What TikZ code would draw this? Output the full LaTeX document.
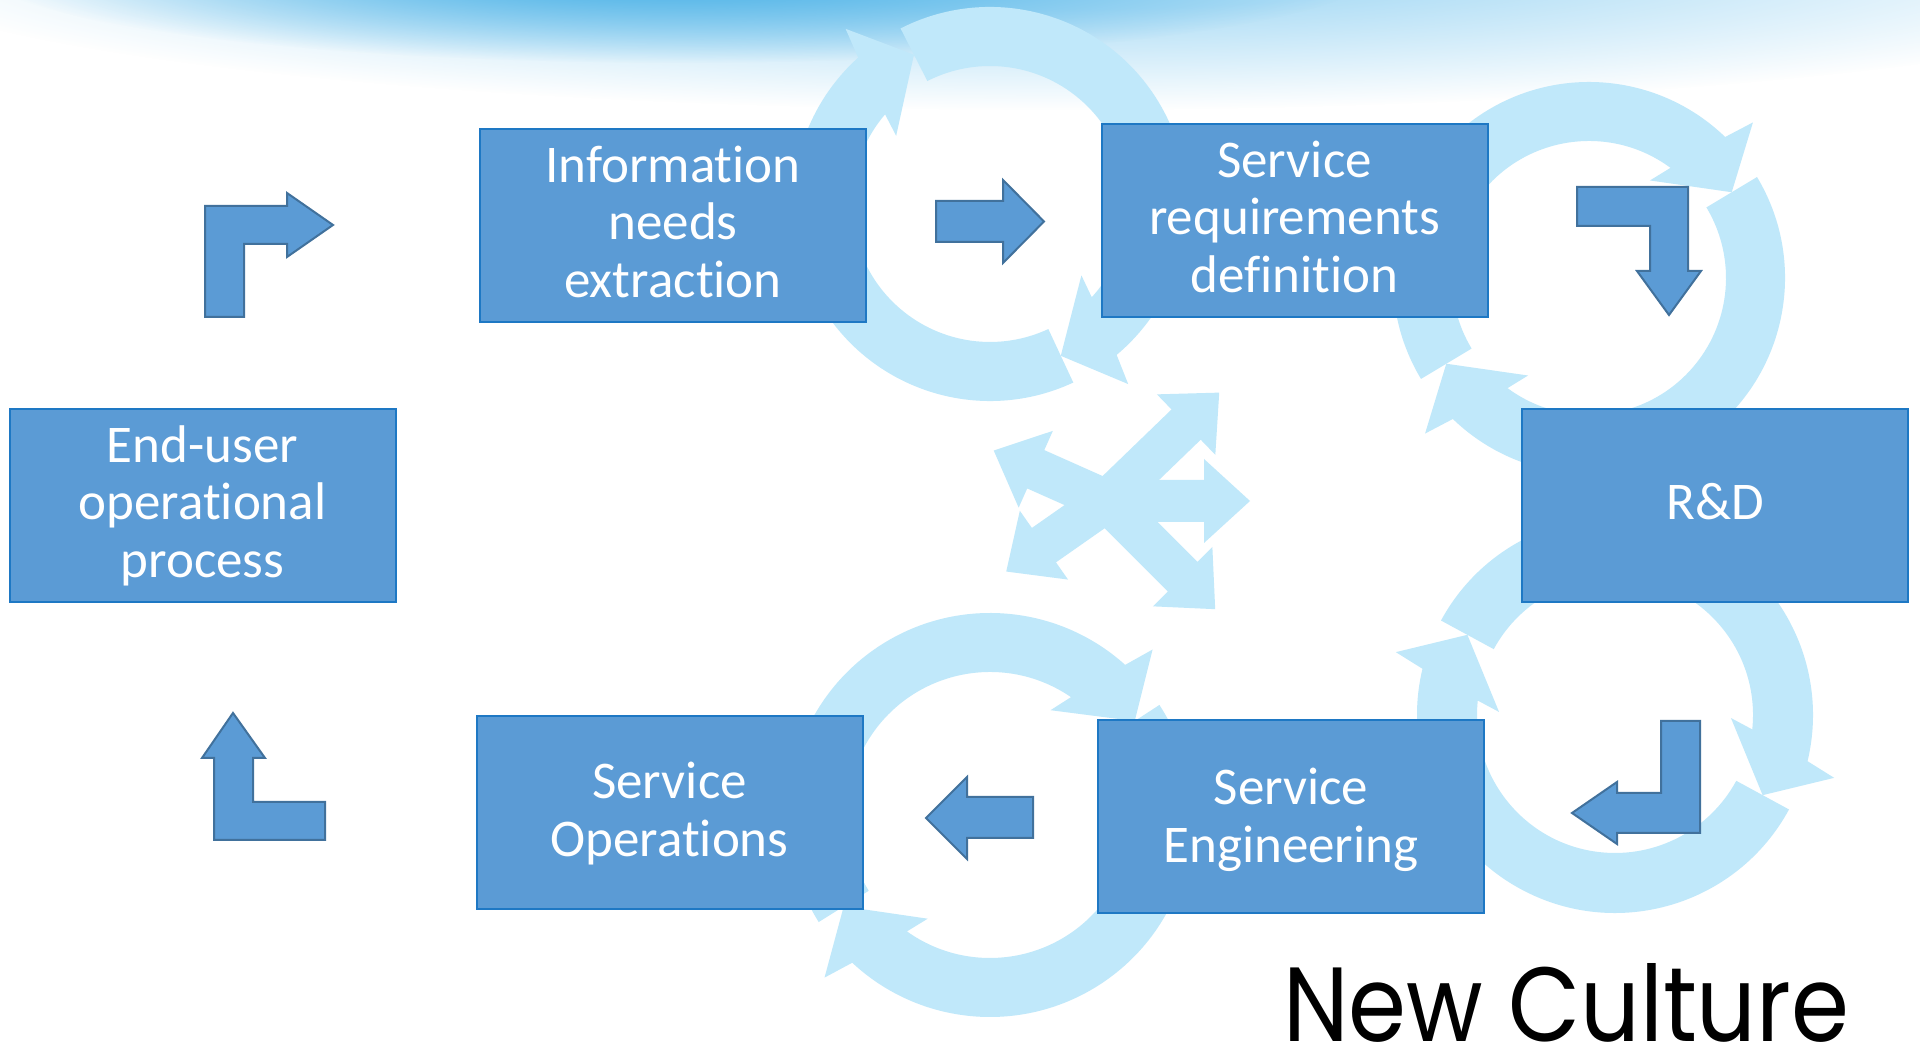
\documentclass[tikz,border=0pt]{standalone}
\usepackage{fontspec}
\usepackage{graphicx}
\usetikzlibrary{fadings}
\newfontfamily\boxfont[Ligatures=NoCommon]{Carlito}
\newfontfamily\ncfont{Poppins}
\definecolor{boxfill}{HTML}{5B9BD5}
\definecolor{boxedge}{RGB}{30,120,196}
\definecolor{arrowedge}{HTML}{41719C}
\definecolor{ringc}{RGB}{192,232,250}
\definecolor{skyL}{RGB}{176,222,246}
\definecolor{skyD}{RGB}{96,187,234}
\pgfdeclareradialshading{skyfadeshade}{\pgfpointorigin}{color(0bp)=(white); color(8bp)=(white); color(25bp)=(black); color(50bp)=(black)}
\pgfdeclarefading{skyfade}{\pgfuseshading{skyfadeshade}}
% circular arrow: centre x, centre y, inner r, outer r, tail angle, head tip angle (clockwise)
\newcommand\circarrow[6]{%
  \begin{scope}[shift={(#1,#2)}]
    \fill[ringc] (#5:#4) arc[start angle=#5, end angle={#6+15}, radius=#4]
      -- ({#6+12.5}:{#4+30}) -- (#6:{(#3+#4)/2}) -- ({#6+27}:{#3-22})
      -- ({#6+22.5}:#3) arc[start angle={#6+22.5}, end angle=#5, radius=#3] -- cycle;
  \end{scope}}
% straight arrow of the centre star: angle, length
\newcommand\stararrow[2]{%
  \begin{scope}[shift={(1107,547)}, rotate=#1]
    \fill[ringc] (-14,-21) -- ({#2-46},-21) -- ({#2-46},-42) -- (#2,0)
      -- ({#2-46},42) -- ({#2-46},21) -- (-14,21) -- cycle;
  \end{scope}}
\tikzset{
  box/.style={draw=boxedge, line width=2pt, fill=boxfill, minimum width=386pt,
    minimum height=193pt, inner sep=0pt},
  boxtext/.style={inner sep=0pt, text=white, align=center,
    font=\boxfont\fontsize{53}{57.5}\selectfont},
  blockarrow/.style={fill=boxfill, draw=arrowedge, line width=2pt, line join=miter}
}
\begin{document}
\begin{tikzpicture}[x=1pt, y=1pt]
\useasboundingbox (0,0) rectangle (1920,1048);
\clip (0,0) rectangle (1920,1048);
\fill[white] (0,0) rectangle (1920,1048);
% sky
\fill[skyL, path fading=skyfade] (1060,1088) ellipse [x radius=1200, y radius=150];
\fill[skyD, path fading=skyfade] (680,1080) ellipse [x radius=700, y radius=95];
% rings of circular arrows
\circarrow{990}{844}{138}{197}{295}{117}
\circarrow{990}{844}{138}{197}{117}{-65}
\circarrow{1589}{770}{137}{196}{211}{31}
\circarrow{1589}{770}{137}{196}{391}{211}
\circarrow{990}{233}{143}{202}{212}{33}
\circarrow{990}{233}{143}{202}{393}{212}
\circarrow{1615}{333}{138}{198}{331.5}{151.5}
\circarrow{1615}{333}{138}{198}{151.5}{-28.5}
% centre star of arrows
\stararrow{0}{143}
\stararrow{44}{156}
\stararrow{-45}{153}
\stararrow{156}{124}
\stararrow{215}{123}
% block arrows
\draw[blockarrow] (205,731) -- (205,842) -- (287,842) -- (287,855) -- (333,823) -- (287,791) -- (287,804) -- (244,804) -- (244,731) -- cycle;
\draw[blockarrow] (936,847) -- (1003,847) -- (1003,868) -- (1044,826.5) -- (1003,785) -- (1003,806) -- (936,806) -- cycle;
\draw[blockarrow] (1577,861) -- (1688,861) -- (1688,777) -- (1701,777) -- (1669,733) -- (1637,777) -- (1650,777) -- (1650,822) -- (1577,822) -- cycle;
\draw[blockarrow] (1661,327) -- (1700,327) -- (1700,215) -- (1617,215) -- (1617,204) -- (1572,235) -- (1617,266) -- (1617,255) -- (1661,255) -- cycle;
\draw[blockarrow] (926,230) -- (967,271) -- (967,251) -- (1033,251) -- (1033,210) -- (967,210) -- (967,189) -- cycle;
\draw[blockarrow] (233,335) -- (265,290) -- (253,290) -- (253,246) -- (325,246) -- (325,208) -- (214,208) -- (214,290) -- (202,290) -- cycle;
% boxes
\node[box] (info) at (673,822.5) {};
\node[box] (req) at (1294.5,827.5) {};
\node[box] (rd) at (1715,542.5) {};
\node[box] (eng) at (1291,231) {};
\node[box] (ops) at (669.5,235.5) {};
\node[box] (user) at (202.5,542.5) {};
\node[boxtext] (infot) at ([yshift=4pt]info.center) {Information\\needs\\extraction};
\node[boxtext] (reqt) at ([yshift=4pt]req.center) {Service\\requirements\\definition};
\node[boxtext] (rdt) at ([yshift=4pt]rd.center) {R\&D};
\node[boxtext] (engt) at ([yshift=-3pt]eng.center) {Service\\Engineering};
\node[boxtext] (opst) at ([yshift=-1pt]ops.center) {Service\\Operations};
\node[boxtext] (usert) at (user.center) {End-user\\operational\\process};
% title
\node[anchor=base west, inner sep=0pt] (nc) at (1283,6) {\resizebox{566pt}{78pt}{\ncfont New Culture}};
\end{tikzpicture}
\end{document}
